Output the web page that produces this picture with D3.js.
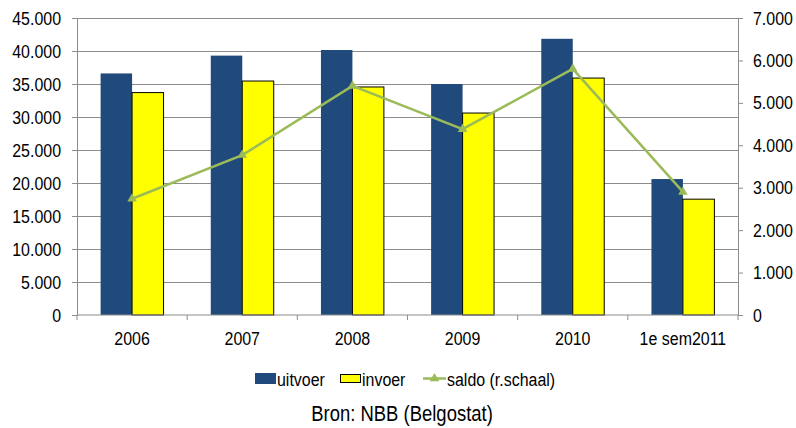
<!DOCTYPE html>
<html>
<head>
<meta charset="utf-8">
<script src="https://cdn.jsdelivr.net/npm/d3@7"></script>
<style>
  body { margin: 0; background: #fff; }
  svg text { font-family: "Liberation Sans Narrow", "Arial Narrow", "Liberation Sans", Arial, sans-serif; fill: #000; }
</style>
</head>
<body>
<div id="chart"></div>
<script>
// data
var categories = ["2006", "2007", "2008", "2009", "2010", "1e sem2011"]
var uitvoer = [36600, 39300, 40150, 35000, 41850, 20600]
var invoer = [33700, 35450, 34550, 30600, 35900, 17550]
var saldo = [2740, 3770, 5400, 4380, 5800, 2900]
var leftTicks = [0, 5000, 10000, 15000, 20000, 25000, 30000, 35000, 40000, 45000]
var rightTicks = [0, 1000, 2000, 3000, 4000, 5000, 6000, 7000]

var W = 796, H = 428
var plot = {left: 77, right: 738, top: 18, bottom: 315}
var narrow = 0.84 // squeeze Liberation Sans to look like Arial Narrow

var fmt = function(v) { return d3.format(",")(v).replace(/,/g, ".") }

var svg = d3.select("#chart").append("svg")
    .attr("width", W)
    .attr("height", H)

// place a narrow-looking text at x,y
function ntext(parent, x, y, str, size, anchor) {
  return parent.append("g")
      .attr("transform", "translate(" + x + "," + y + ") scale(" + narrow + ",1)")
    .append("text")
      .attr("text-anchor", anchor || "start")
      .style("font-size", size + "px")
      .text(str)
}

var x = d3.scaleBand().domain(categories).range([plot.left, plot.right])
var groupW = x.bandwidth() / 1.75
var x1 = d3.scaleBand().domain(["uitvoer", "invoer"]).range([0, groupW])
var yL = d3.scaleLinear().domain([0, 45000]).range([plot.bottom, plot.top])
var yR = d3.scaleLinear().domain([0, 7000]).range([plot.bottom, plot.top])

var gridColor = "#8c8c8c"

// gridlines
svg.append("g").selectAll("line")
    .data(leftTicks.filter(function(d) { return d > 0 }))
  .enter().append("line")
    .attr("x1", plot.left).attr("x2", plot.right)
    .attr("y1", function(d) { return yL(d) }).attr("y2", function(d) { return yL(d) })
    .style("stroke", gridColor).style("stroke-width", 1)
    .attr("shape-rendering", "crispEdges")

// left axis
var axL = svg.append("g")
    .attr("transform", "translate(" + plot.left + ",0)")
    .call(d3.axisLeft(yL).tickValues(leftTicks).tickFormat(fmt).tickSize(5).tickPadding(11))
axL.select(".domain").style("stroke", gridColor)
axL.selectAll(".tick line").style("stroke", gridColor)
axL.selectAll("text")
    .style("font-size", "19px")
    .attr("x", -16 / narrow)
    .attr("transform", "scale(" + narrow + ",1)")

// right axis
var axR = svg.append("g")
    .attr("transform", "translate(" + plot.right + ",0)")
    .call(d3.axisRight(yR).tickValues(rightTicks).tickFormat(fmt).tickSize(5).tickPadding(10))
axR.select(".domain").style("stroke", gridColor)
axR.selectAll(".tick line").style("stroke", gridColor)
axR.selectAll("text")
    .style("font-size", "19px")
    .attr("x", 15 / narrow)
    .attr("transform", "scale(" + narrow + ",1)")

// bars
var groups = svg.append("g").selectAll("g")
    .data(categories)
  .enter().append("g")
    .attr("transform", function(d) { return "translate(" + (x(d) + (x.bandwidth() - groupW) / 2) + ",0)" })

groups.append("rect")
    .attr("x", x1("uitvoer"))
    .attr("y", function(d, i) { return yL(uitvoer[i]) })
    .attr("width", x1.bandwidth())
    .attr("height", function(d, i) { return yL(0) - yL(uitvoer[i]) })
    .style("fill", "#214a7c")

groups.append("rect")
    .attr("x", x1("invoer"))
    .attr("y", function(d, i) { return yL(invoer[i]) })
    .attr("width", x1.bandwidth())
    .attr("height", function(d, i) { return yL(0) - yL(invoer[i]) })
    .style("fill", "#ffff00")
    .style("stroke", "#000").style("stroke-width", 1)

// bottom axis
svg.append("line")
    .attr("x1", plot.left).attr("x2", plot.right)
    .attr("y1", plot.bottom).attr("y2", plot.bottom)
    .style("stroke", gridColor)
svg.append("g").selectAll("line")
    .data(categories.concat(["end"]))
  .enter().append("line")
    .attr("x1", function(d, i) { return plot.left + i * x.step() })
    .attr("x2", function(d, i) { return plot.left + i * x.step() })
    .attr("y1", plot.bottom).attr("y2", plot.bottom + 5)
    .style("stroke", gridColor)
var xl = svg.append("g")
categories.forEach(function(c) {
  ntext(xl, x(c) + x.bandwidth() / 2, 345, c, 19, "middle")
})

// saldo line, right scale
var lineColor = "#9bbb59"
var cx = function(d, i) { return x(categories[i]) + x.bandwidth() / 2 }
svg.append("path")
    .datum(saldo)
    .attr("d", d3.line().x(cx).y(function(d) { return yR(d) }))
    .style("fill", "none")
    .style("stroke", lineColor)
    .style("stroke-width", 2.5)
var tri = d3.symbol().type(d3.symbolTriangle).size(40)
svg.append("g").selectAll("path")
    .data(saldo)
  .enter().append("path")
    .attr("d", tri)
    .attr("transform", function(d, i) { return "translate(" + cx(d, i) + "," + yR(d) + ")" })
    .style("fill", lineColor)

// legend
var lg = svg.append("g")
lg.append("rect").attr("x", 255).attr("y", 373).attr("width", 21).attr("height", 11).style("fill", "#214a7c")
ntext(lg, 277, 386, "uitvoer", 19)
lg.append("rect").attr("x", 340.5).attr("y", 374.5).attr("width", 20).attr("height", 8).style("fill", "#ffff00").style("stroke", "#000")
ntext(lg, 362, 386, "invoer", 19)
lg.append("line").attr("x1", 423).attr("x2", 446).attr("y1", 378.5).attr("y2", 378.5).style("stroke", lineColor).style("stroke-width", 2.5)
lg.append("path").attr("d", tri).attr("transform", "translate(434.5,378.5)").style("fill", lineColor)
ntext(lg, 447, 386, "saldo (r.schaal)", 19)

// source
ntext(svg, 402, 421, "Bron: NBB (Belgostat)", 22, "middle")
</script>
</body>
</html>
